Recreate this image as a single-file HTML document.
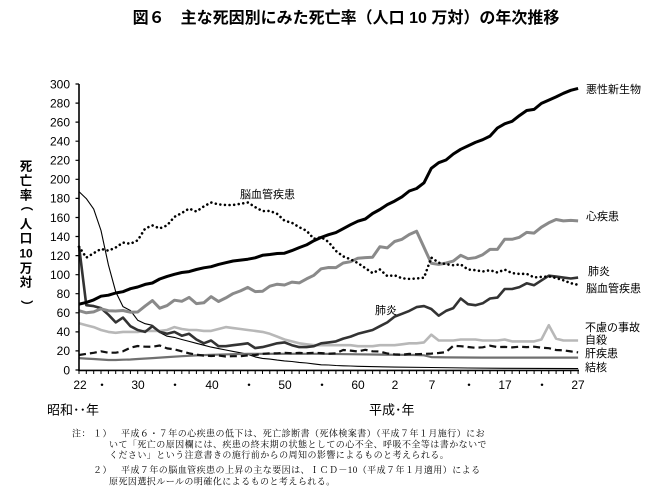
<!DOCTYPE html>
<html>
<head>
<meta charset="utf-8">
<style>
  html,body{margin:0;padding:0;background:#fff;}
  body{width:670px;height:498px;overflow:hidden;}
  svg{display:block;}
  .s{font-family:"Liberation Sans","Noto Sans CJK JP",sans-serif;}
  .n{font-family:"Liberation Serif","Noto Serif CJK SC",serif;}
</style>
</head>
<body>
<svg width="670" height="498" viewBox="0 0 670 498" xmlns="http://www.w3.org/2000/svg">
  <rect width="670" height="498" fill="#fff"/>

  <!-- Title -->
  <text class="s" x="346" y="23" font-size="16" font-weight="bold" text-anchor="middle" fill="#000">図６　主な死因別にみた死亡率（人口 10 万対）の年次推移</text>

  <!-- Y axis title (vertical) -->
  <g class="s" font-size="12.5" font-weight="bold" text-anchor="middle" fill="#000">
    <text x="26" y="170.5">死</text>
    <text x="26" y="185">亡</text>
    <text x="26" y="199.5">率</text>
    <text x="26" y="205" dominant-baseline="central" transform="rotate(90 26 205)">（</text>
    <text x="26" y="228.5">人</text>
    <text x="26" y="242.5">口</text>
    <text x="26" y="257.5" font-size="12">10</text>
    <text x="26" y="272.5">万</text>
    <text x="26" y="286.5">対</text>
    <text x="26" y="306" dominant-baseline="central" transform="rotate(90 26 306)">）</text>
  </g>

  <!-- Y tick labels -->
  <g class="s" font-size="12" text-anchor="end" fill="#000">
    <text x="70" y="374.3">0</text>
    <text x="70" y="355.2">20</text>
    <text x="70" y="336.2">40</text>
    <text x="70" y="317.1">60</text>
    <text x="70" y="298">80</text>
    <text x="70" y="279">100</text>
    <text x="70" y="259.9">120</text>
    <text x="70" y="240.8">140</text>
    <text x="70" y="221.8">160</text>
    <text x="70" y="202.7">180</text>
    <text x="70" y="183.6">200</text>
    <text x="70" y="164.6">220</text>
    <text x="70" y="145.5">240</text>
    <text x="70" y="126.4">260</text>
    <text x="70" y="107.4">280</text>
    <text x="70" y="88.3">300</text>
  </g>

  <!-- Y tick marks -->
  <path d="M75.5,370H79 M75.5,350.9H79 M75.5,331.9H79 M75.5,312.8H79 M75.5,293.7H79 M75.5,274.7H79 M75.5,255.6H79 M75.5,236.5H79 M75.5,217.5H79 M75.5,198.4H79 M75.5,179.3H79 M75.5,160.3H79 M75.5,141.2H79 M75.5,122.1H79 M75.5,103.1H79 M75.5,84H79" stroke="#000" stroke-width="1.2" fill="none"/>

  <!-- X tick marks (every year) -->
  <path d="M79,370V374 M86.3,370V374 M93.7,370V374 M101,370V374 M108.4,370V374 M115.7,370V374 M123,370V374 M130.4,370V374 M137.7,370V374 M145.1,370V374 M152.4,370V374 M159.7,370V374 M167.1,370V374 M174.4,370V374 M181.8,370V374 M189.1,370V374 M196.4,370V374 M203.8,370V374 M211.1,370V374 M218.5,370V374 M225.8,370V374 M233.1,370V374 M240.5,370V374 M247.8,370V374 M255.2,370V374 M262.5,370V374 M269.8,370V374 M277.2,370V374 M284.5,370V374 M291.9,370V374 M299.2,370V374 M306.5,370V374 M313.9,370V374 M321.2,370V374 M328.6,370V374 M335.9,370V374 M343.2,370V374 M350.6,370V374 M357.9,370V374 M365.3,370V374 M372.6,370V374 M379.9,370V374 M387.3,370V374 M394.6,370V374 M402,370V374 M409.3,370V374 M416.6,370V374 M424,370V374 M431.3,370V374 M438.7,370V374 M446,370V374 M453.3,370V374 M460.7,370V374 M468,370V374 M475.4,370V374 M482.7,370V374 M490,370V374 M497.4,370V374 M504.7,370V374 M512.1,370V374 M519.4,370V374 M526.7,370V374 M534.1,370V374 M541.4,370V374 M548.8,370V374 M556.1,370V374 M563.4,370V374 M570.8,370V374 M578.1,370V374" stroke="#000" stroke-width="1" fill="none"/>

  <!-- X tick labels -->
  <g class="s" font-size="12" text-anchor="middle" fill="#000">
    <text x="80" y="389">22</text>
    <text x="102" y="389">・</text>
    <text x="138" y="389">30</text>
    <text x="175" y="389">・</text>
    <text x="212" y="389">40</text>
    <text x="249" y="389">・</text>
    <text x="285" y="389">50</text>
    <text x="322" y="389">・</text>
    <text x="358" y="389">60</text>
    <text x="395" y="389">2</text>
    <text x="432" y="389">7</text>
    <text x="469" y="389">・</text>
    <text x="505" y="389">17</text>
    <text x="542" y="389">・</text>
    <text x="578" y="389">27</text>
  </g>
  <text class="s" x="47" y="414.5" font-size="13" fill="#000">昭和･･年</text>
  <text class="s" x="369" y="414.5" font-size="13" fill="#000">平成･年</text>

  <!-- Series -->
  <!-- 結核 TB -->
  <polyline fill="none" stroke="#000" stroke-width="1.1" stroke-linejoin="round" points="79,191.6 86.3,198.6 93.7,209.1 101,230.5 108.4,264.9 115.7,291.7 123,306.6 130.4,310.5 137.7,320.2 145.1,323.7 152.4,325.3 159.7,332.5 167.1,336.2 174.4,337.4 181.8,339.5 189.1,341.4 196.4,343.3 203.8,345.2 211.1,347.1 218.5,348.6 225.8,350 233.1,351.4 240.5,352.8 247.8,354.3 255.2,356.9 262.5,358.4 269.8,359.1 277.2,360.1 284.5,360.9 291.9,361.5 299.2,362.4 306.5,363 313.9,363.9 321.2,364.8 328.6,365 335.9,365.5 343.2,365.8 350.6,366 357.9,366.3 394.6,367.1 431.3,367.5 468,368 504.7,368.3 541.4,368.4 578.1,368.6"/>

  <!-- 肝疾患 liver -->
  <polyline fill="none" stroke="#707070" stroke-width="2.2" stroke-linejoin="round" points="79,358.1 86.3,358.6 93.7,359 101,359.5 108.4,360 115.7,360 123,359.7 130.4,359.5 137.7,359 152.4,358.1 167.1,357.1 181.8,356.2 196.4,355.4 211.1,354.8 233.1,354.2 247.8,353.8 299.2,353.8 321.2,353.8 357.9,354.3 394.6,354.8 416.6,355 424,355.3 431.3,357.1 446,357.4 482.7,357.6 578.1,357.6"/>

  <!-- 自殺 suicide -->
  <polyline fill="none" stroke="#111" stroke-width="2.2" stroke-dasharray="7 4" stroke-linejoin="round" points="79,355 86.3,353.9 93.7,352.8 101,351.3 108.4,352.7 115.7,352.7 123,351.3 130.4,347.7 137.7,346 145.1,346.7 152.4,346.8 159.7,345.5 167.1,348.4 174.4,349.4 181.8,351.3 189.1,353.3 196.4,354.7 203.8,355.6 211.1,356 218.5,355.5 225.8,356.5 233.1,356.2 240.5,356.2 247.8,355.4 255.2,355.1 262.5,353.8 269.8,353.4 277.2,353.3 284.5,352.8 291.9,353.2 299.2,352.9 306.5,353.2 313.9,352.8 321.2,353.1 328.6,353.7 335.9,353.3 343.2,350 350.6,350.6 357.9,351.5 365.3,349.8 372.6,351.3 379.9,351.5 387.3,353.5 394.6,354.4 402,354.7 409.3,353.9 416.6,354.2 424,353.9 431.3,353.6 438.7,353 446,352.1 453.3,345.8 460.7,346.2 468,347 475.4,347.8 482.7,347.3 490,345.7 497.4,347.1 504.7,346.9 512.1,347.4 519.4,346.7 526.7,347.1 534.1,346.7 541.4,347.7 548.8,348.2 556.1,350 563.4,350.3 570.8,351.4 578.1,352.4"/>

  <!-- 不慮の事故 accidents -->
  <polyline fill="none" stroke="#b8b8b8" stroke-width="2.6" stroke-linejoin="round" points="79,323.3 86.3,325.2 93.7,327.1 101,330 108.4,331.9 115.7,332.8 123,331.9 130.4,331.9 137.7,331.9 145.1,330.9 152.4,330.9 159.7,330.9 167.1,330 174.4,327.1 181.8,329 189.1,330 196.4,330 203.8,330.9 211.1,330.9 218.5,329 225.8,327.1 233.1,328.1 240.5,329 247.8,330 255.2,330.9 262.5,331.9 269.8,333.8 277.2,336.6 284.5,339.5 291.9,341.4 299.2,343.3 306.5,344.3 313.9,345.2 321.2,345.2 328.6,345.2 335.9,345.2 343.2,345.2 350.6,345.2 357.9,346.2 365.3,346.2 372.6,346.2 379.9,345.2 387.3,345.2 394.6,345.2 402,344.3 409.3,343.3 416.6,343.3 424,342.4 431.3,334.7 438.7,340.5 446,340.5 453.3,340.5 460.7,339.5 468,339.5 475.4,339.5 482.7,340.5 490,340.5 497.4,340.5 504.7,339.5 512.1,341.4 519.4,341.4 526.7,341.4 534.1,341.4 541.4,339.5 548.8,325.2 556.1,338.6 563.4,340.5 570.8,340.5 578.1,340.5"/>

  <!-- 肺炎 pneumonia -->
  <polyline fill="none" stroke="#333" stroke-width="2.6" stroke-linejoin="round" points="79,246.1 86.3,305.2 93.7,306.1 101,308.1 108.4,314.7 115.7,322.4 123,317.6 130.4,326.2 137.7,330 145.1,331.9 152.4,326.2 159.7,331.9 167.1,333.8 174.4,331.9 181.8,335.7 189.1,333.8 196.4,339.5 203.8,343.3 211.1,340.5 218.5,346.2 225.8,346.2 233.1,345.2 240.5,344.3 247.8,343.3 255.2,348.1 262.5,347.1 269.8,345.2 277.2,343.3 284.5,342.4 291.9,345.2 299.2,347.1 306.5,347.1 313.9,346.2 321.2,343.3 328.6,342.4 335.9,341.4 343.2,338.6 350.6,336.6 357.9,333.8 365.3,331.9 372.6,330 379.9,326.2 387.3,322.4 394.6,316.6 402,313.8 409.3,310.9 416.6,307.1 424,306.1 431.3,309 438.7,315.7 446,310.9 453.3,308.1 460.7,298.5 468,304.2 475.4,305.2 482.7,303.3 490,298.5 497.4,297.6 504.7,289 512.1,289 519.4,287.1 526.7,283.3 534.1,285.2 541.4,280.4 548.8,275.7 556.1,276.6 563.4,277.6 570.8,278.5 578.1,277.6"/>

  <!-- 心疾患 heart -->
  <polyline fill="none" stroke="#8a8a8a" stroke-width="3" stroke-linejoin="round" points="79,310.7 86.3,312.8 93.7,311.9 101,308.8 108.4,310.7 115.7,311 123,310.5 130.4,312.2 137.7,312 145.1,306.1 152.4,300.6 159.7,308.2 167.1,305.6 174.4,300.2 181.8,301.3 189.1,297.4 196.4,303.6 203.8,302.8 211.1,296.6 218.5,301.5 225.8,297.9 233.1,293.6 240.5,290.9 247.8,287.4 255.2,291.6 262.5,291.3 269.8,286.2 277.2,284.2 284.5,285 291.9,282.1 299.2,282.9 306.5,278.9 313.9,275.3 321.2,268.8 328.6,267.5 335.9,267.6 343.2,263 350.6,261.7 357.9,258.2 365.3,257.6 372.6,257.2 379.9,246.7 387.3,247.9 394.6,241.5 402,239.3 409.3,234.5 416.6,231.2 424,247.4 431.3,263.3 438.7,264.4 446,263.1 453.3,261.1 460.7,255.3 468,258.7 475.4,257.7 482.7,254.7 490,249.4 497.4,249.4 504.7,239.3 512.1,239.3 519.4,237.3 526.7,232.4 534.1,233.1 541.4,227.2 548.8,222.8 556.1,219.5 563.4,220.9 570.8,220.4 578.1,220.9"/>

  <!-- 脳血管疾患 cerebrovascular (dotted) -->
  <polyline fill="none" stroke="#000" stroke-width="2.6" stroke-linecap="round" stroke-linejoin="round" stroke-dasharray="0.01 4.6" points="79,246.7 86.3,257.6 93.7,253.2 101,248.9 108.4,250.7 115.7,247.5 123,242.6 130.4,243.8 137.7,240.3 145.1,228.6 152.4,225.4 159.7,228.4 167.1,225.4 174.4,216.9 181.8,213 189.1,208.6 196.4,211.5 203.8,206.4 211.1,202.5 218.5,204.4 225.8,205 233.1,205 240.5,203.8 247.8,202.5 255.2,207.1 262.5,211.1 269.8,210.9 277.2,213.9 284.5,220.7 291.9,222.8 299.2,227.2 306.5,230.7 313.9,238.8 321.2,237.1 328.6,242 335.9,250.9 343.2,256.4 350.6,259.3 357.9,263.1 365.3,268.1 372.6,273.1 379.9,269.5 387.3,276.1 394.6,275.3 402,278.3 409.3,278.9 416.6,278.5 424,277.7 431.3,257.6 438.7,262.7 446,264.2 453.3,265.2 460.7,264.4 468,269.5 475.4,270.2 482.7,271.5 490,270.2 497.4,272.5 504.7,269.6 512.1,273.1 519.4,273.9 526.7,273.8 534.1,277.4 541.4,276.9 548.8,276.4 556.1,278 563.4,280.3 570.8,283.2 578.1,284.8"/>

  <!-- 悪性新生物 malignant neoplasms -->
  <polyline fill="none" stroke="#000" stroke-width="3" stroke-linejoin="round" points="79,304.2 86.3,302.4 93.7,299.9 101,296.2 108.4,295.2 115.7,293 123,291.7 130.4,288.7 137.7,287 145.1,284.4 152.4,283 159.7,279 167.1,276.4 174.4,274.3 181.8,272.5 189.1,271.6 196.4,269.5 203.8,267.8 211.1,266.7 218.5,264.4 225.8,262.7 233.1,261 240.5,260.1 247.8,259.2 255.2,257.8 262.5,255.3 269.8,254.5 277.2,253.5 284.5,253.2 291.9,250.6 299.2,247.6 306.5,244.9 313.9,240.7 321.2,237.4 328.6,234.7 335.9,232.6 343.2,228.7 350.6,224.7 357.9,221.2 365.3,219 372.6,213.5 379.9,209.5 387.3,204.6 394.6,201.1 402,196.8 409.3,191 416.6,188.5 424,182.8 431.3,168.3 438.7,162.7 446,160 453.3,154 460.7,149.3 468,145.9 475.4,142.4 482.7,139.7 490,136.1 497.4,128 504.7,123.8 512.1,121.3 519.4,115.6 526.7,110.5 534.1,109.4 541.4,103.4 548.8,100.1 556.1,96.9 563.4,93.3 570.8,90.3 578.1,88.4"/>

  <!-- Axes -->
  <path d="M79,84V370.7" stroke="#000" stroke-width="1.6" fill="none"/>
  <path d="M78.2,370.4H579" stroke="#000" stroke-width="1.6" fill="none"/>

  <!-- In-chart labels -->
  <g class="s" font-size="11" fill="#000">
    <text x="240" y="198">脳血管疾患</text>
    <text x="375" y="314">肺炎</text>
  </g>

  <!-- Right-side series labels -->
  <g class="s" font-size="11" fill="#000">
    <text x="586" y="93">悪性新生物</text>
    <text x="586" y="220">心疾患</text>
    <text x="588" y="275">肺炎</text>
    <text x="586" y="292">脳血管疾患</text>
    <text x="585" y="331">不慮の事故</text>
    <text x="585" y="343.5">自殺</text>
    <text x="585" y="357">肝疾患</text>
    <text x="585" y="371">結核</text>
  </g>

  <!-- Notes -->
  <g class="n" font-size="9" fill="#000" letter-spacing="0.45">
    <text x="72" y="436.5">注：</text>
    <text x="93" y="436.5">１）</text>
    <text x="121" y="436.5">平成６・７年の心疾患の低下は、死亡診断書（死体検案書）（平成７年１月施行）にお</text>
    <text x="109" y="447.5">いて「死亡の原因欄には、疾患の終末期の状態としての心不全、呼吸不全等は書かないで</text>
    <text x="109" y="458">ください」という注意書きの施行前からの周知の影響によるものと考えられる。</text>
    <text x="93" y="473">２）</text>
    <text x="121" y="473">平成７年の脳血管疾患の上昇の主な要因は、ＩＣＤ－10（平成７年１月適用）による</text>
    <text x="109" y="484.5">原死因選択ルールの明確化によるものと考えられる。</text>
  </g>
</svg>
</body>
</html>
